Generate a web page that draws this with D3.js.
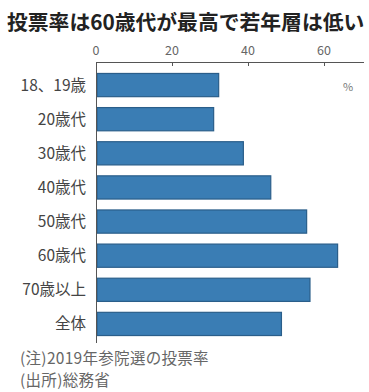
<!DOCTYPE html>
<html><head><meta charset="utf-8">
<script src="https://cdn.jsdelivr.net/npm/d3@7"></script>
<style>
body{margin:0;background:#fff;}
svg{display:block;font-family:"Noto Sans CJK JP","Noto Sans",sans-serif;}
</style></head>
<body><svg id="c" width="369" height="392"></svg>
<script>
const categories = ["18、19歳","20歳代","30歳代","40歳代","50歳代","60歳代","70歳以上","全体"];
const values = [32.28, 30.96, 38.78, 45.99, 55.43, 63.58, 56.31, 48.80];
const ticks = [0, 20, 40, 60];
const title = "投票率は60歳代が最高で若年層は低い";
const unit = "%";
const notes = ["(注)2019年参院選の投票率", "(出所)総務省"];

const svg = d3.select("#c");
const x = d3.scaleLinear().domain([0, 60]).range([96, 324]);
const y = d3.scaleBand().domain(categories).range([68, 341]).paddingInner(0.32).paddingOuter(0.16);

svg.append("text").attr("x", 7).attr("y", 30).attr("font-size", 20.8).attr("font-weight", "bold")
  .attr("fill", "#222").text(title);

// x axis
svg.append("line").attr("x1", x(0)).attr("x2", 364).attr("y1", 62.5).attr("y2", 62.5)
  .attr("stroke", "#555").attr("stroke-width", 1);
svg.selectAll(".tk").data(ticks).join("line")
  .attr("x1", d => x(d) + 0.5).attr("x2", d => x(d) + 0.5).attr("y1", 62).attr("y2", 66)
  .attr("stroke", "#555");
svg.selectAll(".tl").data(ticks).join("text")
  .attr("x", d => x(d)).attr("y", 55).attr("text-anchor", "middle")
  .attr("font-size", 12.5).attr("fill", "#666").text(d => d);

// bars
svg.selectAll(".bar").data(values).join("rect")
  .attr("x", x(0) + 1).attr("y", (d, i) => y(categories[i]))
  .attr("width", d => x(d) - x(0) - 1).attr("height", y.bandwidth())
  .attr("fill", "#3a7db4").attr("stroke", "#2a5e8a").attr("stroke-width", 1.2);

// y axis
svg.append("line").attr("x1", x(0) + 0.5).attr("x2", x(0) + 0.5).attr("y1", 62).attr("y2", 343)
  .attr("stroke", "#555");

svg.selectAll(".cl").data(categories).join("text")
  .attr("x", 86).attr("y", d => y(d) + y.bandwidth() / 2 + 5.5).attr("text-anchor", "end")
  .attr("font-size", 15.5).attr("fill", "#444").text(d => d);

svg.append("text").attr("x", 343).attr("y", 91).attr("font-size", 11).attr("fill", "#777").text(unit);

svg.selectAll(".nt").data(notes).join("text")
  .attr("x", 20).attr("y", (d, i) => 364 + i * 22).attr("font-size", 15.5)
  .attr("letter-spacing", 0.3).attr("fill", "#666").text(d => d);
</script></body></html>
